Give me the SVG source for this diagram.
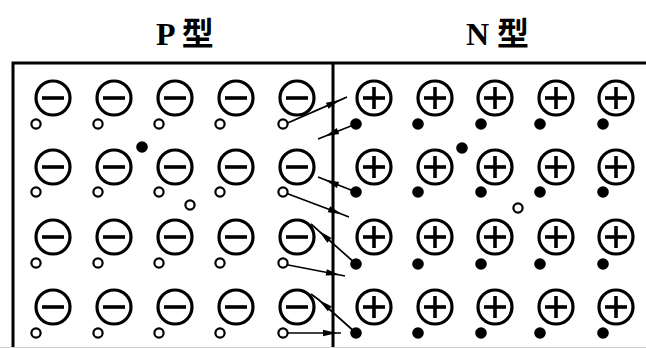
<svg xmlns="http://www.w3.org/2000/svg" width="646" height="348" viewBox="0 0 646 348">
<defs>
<style>
.ion{fill:none;stroke:#000;stroke-width:3.2}
.sgn{stroke:#000;stroke-width:3.6;fill:none}
.hole{fill:#fff;stroke:#000;stroke-width:2.2}
.el{fill:#000}
.frame{stroke:#000;stroke-width:3;fill:none}
.arr{stroke:#000;stroke-width:1.7;fill:none;marker-mid:url(#ah)}
.title{font-family:"Liberation Serif","Noto Sans CJK SC",serif;font-weight:bold;font-size:32px;fill:#000}
</style>
<marker id="ah" markerUnits="userSpaceOnUse" markerWidth="20" markerHeight="10" viewBox="-15 -5 16 10" refX="0" refY="0" orient="auto" overflow="visible">
<path d="M0,0 L-14,-3.2 L-14,3.2 Z" fill="#000"/>
</marker>
<g id="neg"><circle class="ion" r="17"/><line class="sgn" x1="-11" y1="0" x2="11" y2="0" stroke-width="4"/></g>
<g id="pos"><circle class="ion" r="17"/><line class="sgn" x1="-11" y1="0" x2="11" y2="0"/><line class="sgn" x1="0" y1="-11" x2="0" y2="11"/></g>
</defs>
<rect width="646" height="348" fill="#fff"/>
<g id="titles">
<text class="title" x="156" y="45">P 型</text>
<text class="title" x="466" y="45">N 型</text>
</g>
<g id="frame">
<path class="frame" d="M13,348 V63 H646"/>
<line class="frame" x1="333" y1="63" x2="333" y2="348"/>
<line x1="0" y1="347.5" x2="646" y2="347.5" stroke="#d0d0d0" stroke-width="1"/>
</g>
<g id="p-region">
<g id="p-ions">
<use href="#neg" x="53" y="98"/><use href="#neg" x="114" y="98"/><use href="#neg" x="175" y="98"/><use href="#neg" x="236" y="98"/><use href="#neg" x="297" y="98"/>
<use href="#neg" x="53" y="167"/><use href="#neg" x="114" y="167"/><use href="#neg" x="175" y="167"/><use href="#neg" x="236" y="167"/><use href="#neg" x="297" y="167"/>
<use href="#neg" x="53" y="237"/><use href="#neg" x="114" y="237"/><use href="#neg" x="175" y="237"/><use href="#neg" x="236" y="237"/><use href="#neg" x="297" y="237"/>
<use href="#neg" x="53" y="307"/><use href="#neg" x="114" y="307"/><use href="#neg" x="175" y="307"/><use href="#neg" x="236" y="307"/><use href="#neg" x="297" y="307"/>
</g>
</g>
<g id="n-region">
<g id="n-ions">
<use href="#pos" x="374" y="98"/><use href="#pos" x="435" y="98"/><use href="#pos" x="495" y="98"/><use href="#pos" x="556" y="98"/><use href="#pos" x="616" y="98"/>
<use href="#pos" x="374" y="167"/><use href="#pos" x="435" y="167"/><use href="#pos" x="495" y="167"/><use href="#pos" x="556" y="167"/><use href="#pos" x="616" y="167"/>
<use href="#pos" x="374" y="237"/><use href="#pos" x="435" y="237"/><use href="#pos" x="495" y="237"/><use href="#pos" x="556" y="237"/><use href="#pos" x="616" y="237"/>
<use href="#pos" x="374" y="307"/><use href="#pos" x="435" y="307"/><use href="#pos" x="495" y="307"/><use href="#pos" x="556" y="307"/><use href="#pos" x="616" y="307"/>
</g>
</g>
<g id="connectors">
<path class="arr" d="M283,125 L340,100.1 L347,97"/>
<path class="arr" d="M356,124 L325,136.2 L318,139"/>
<path class="arr" d="M356,192 L325,179.8 L318,177"/>
<path class="arr" d="M283,192 L342,214.3 L349,217"/>
<path class="arr" d="M356,264 L319,231.1 L311,224"/>
<path class="arr" d="M283,264 L340,275 L345,276"/>
<path class="arr" d="M356,333 L319,300 L311,294"/>
<path class="arr" d="M283,333 L337,333 L341,333"/>
</g>
<g id="holes">
<circle class="hole" cx="36" cy="124" r="4.6"/><circle class="hole" cx="98" cy="124" r="4.6"/><circle class="hole" cx="159" cy="124" r="4.6"/><circle class="hole" cx="220" cy="124" r="4.6"/><circle class="hole" cx="283" cy="124" r="4.6"/>
<circle class="hole" cx="36" cy="192" r="4.6"/><circle class="hole" cx="98" cy="192" r="4.6"/><circle class="hole" cx="159" cy="192" r="4.6"/><circle class="hole" cx="220" cy="192" r="4.6"/><circle class="hole" cx="283" cy="192" r="4.6"/>
<circle class="hole" cx="36" cy="263" r="4.6"/><circle class="hole" cx="98" cy="263" r="4.6"/><circle class="hole" cx="159" cy="263" r="4.6"/><circle class="hole" cx="220" cy="263" r="4.6"/><circle class="hole" cx="283" cy="263" r="4.6"/>
<circle class="hole" cx="36" cy="333" r="4.6"/><circle class="hole" cx="98" cy="333" r="4.6"/><circle class="hole" cx="159" cy="333" r="4.6"/><circle class="hole" cx="220" cy="333" r="4.6"/><circle class="hole" cx="283" cy="333" r="4.6"/>
<circle class="hole" cx="190" cy="205" r="4.6"/>
<circle class="hole" cx="518" cy="208" r="4.6"/>
</g>
<g id="electrons">
<circle class="el" cx="356" cy="124" r="5.8"/><circle class="el" cx="418" cy="124" r="5.8"/><circle class="el" cx="481" cy="124" r="5.8"/><circle class="el" cx="540" cy="124" r="5.8"/><circle class="el" cx="603" cy="124" r="5.8"/>
<circle class="el" cx="356" cy="192" r="5.8"/><circle class="el" cx="418" cy="192" r="5.8"/><circle class="el" cx="481" cy="192" r="5.8"/><circle class="el" cx="540" cy="192" r="5.8"/><circle class="el" cx="603" cy="192" r="5.8"/>
<circle class="el" cx="356" cy="264" r="5.8"/><circle class="el" cx="418" cy="264" r="5.8"/><circle class="el" cx="481" cy="264" r="5.8"/><circle class="el" cx="540" cy="264" r="5.8"/><circle class="el" cx="603" cy="264" r="5.8"/>
<circle class="el" cx="356" cy="333" r="5.8"/><circle class="el" cx="418" cy="333" r="5.8"/><circle class="el" cx="481" cy="333" r="5.8"/><circle class="el" cx="540" cy="333" r="5.8"/><circle class="el" cx="603" cy="333" r="5.8"/>
<circle class="el" cx="142" cy="147" r="5.8"/>
<circle class="el" cx="462" cy="148" r="5.8"/>
</g>
</svg>
